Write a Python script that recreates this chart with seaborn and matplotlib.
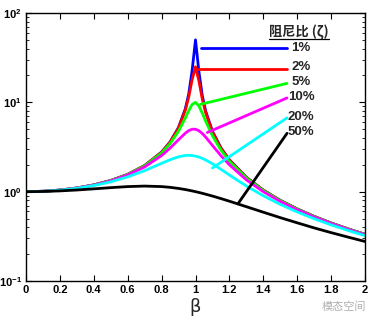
import numpy as np
import pandas as pd
import matplotlib
matplotlib.use("Agg")
import matplotlib.pyplot as plt
import seaborn as sns
from matplotlib.lines import Line2D
from matplotlib.ticker import LogLocator, NullFormatter, FixedLocator

# ---------------- data ----------------
beta = [0, 0.1, 0.2, 0.3, 0.4, 0.5, 0.6, 0.7, 0.8, 0.85, 0.9, 0.94, 0.96, 0.98,
        1.0, 1.02, 1.04, 1.06, 1.1, 1.15, 1.2, 1.3, 1.4, 1.5, 1.6, 1.7, 1.8, 1.9, 2.0]

h_1 = [1.0, 1.010, 1.042, 1.099, 1.190, 1.333, 1.562, 1.960, 2.775, 3.597, 5.24, 8.48, 12.4, 22.6,
       50.0, 22.1, 11.9, 7.97, 4.74, 3.09, 2.27, 1.448, 1.041, 0.800, 0.641, 0.529, 0.446, 0.383, 0.333]
h_2 = [1.0, 1.010, 1.042, 1.099, 1.190, 1.333, 1.561, 1.958, 2.767, 3.577, 5.17, 8.18, 11.45, 17.9,
       25.0, 17.4, 10.9, 7.65, 4.66, 3.07, 2.26, 1.445, 1.040, 0.799, 0.641, 0.529, 0.446, 0.383, 0.333]
h_5 = [1.0, 1.010, 1.041, 1.098, 1.189, 1.330, 1.556, 1.943, 2.712, 3.446, 4.76, 6.68, 8.07, 9.46,
       10.0, 9.12, 7.56, 6.14, 4.22, 2.92, 2.19, 1.424, 1.031, 0.794, 0.638, 0.527, 0.445, 0.382, 0.333]
h_10 = [1.0, 1.010, 1.041, 1.097, 1.185, 1.322, 1.536, 1.891, 2.538, 3.073, 3.82, 4.52, 4.82, 5.00,
        5.00, 4.81, 4.48, 4.08, 3.29, 2.53, 2.00, 1.356, 1.000, 0.778, 0.628, 0.521, 0.441, 0.379, 0.330]
h_20 = [1.0, 1.009, 1.038, 1.090, 1.170, 1.288, 1.463, 1.719, 2.076, 2.279, 2.457, 2.541, 2.551, 2.538,
        2.50, 2.439, 2.359, 2.264, 2.051, 1.780, 1.536, 1.157, 0.900, 0.721, 0.593, 0.498, 0.425, 0.368, 0.322]
h_50 = [1.0, 1.005, 1.020, 1.044, 1.075, 1.109, 1.140, 1.155, 1.140, 1.118, 1.087, 1.056, 1.038, 1.020,
        1.000, 0.980, 0.959, 0.937, 0.893, 0.837, 0.782, 0.679, 0.589, 0.512, 0.448, 0.393, 0.348, 0.310, 0.277]

labels = ["1%", "2%", "5%", "10%", "20%", "50%"]
colors = ["#0000ff", "#ff0000", "#00ff00", "#ff00ff", "#00ffff", "#000000"]
# annotation leader lines: start point on the curve, end point near the label (data units)
lead_start_x = [1.03, 1.00, 1.03, 1.07, 1.10, 1.25]
lead_start_y = [40.8, 23.6, 9.5, 4.6, 1.84, 0.73]
lead_end_x = [1.54, 1.54, 1.54, 1.54, 1.54, 1.54]
lead_end_y = [40.8, 23.6, 16.3, 11.2, 6.7, 4.5]
label_y = [40.5, 25.0, 17.0, 11.5, 6.9, 4.6]
legend_title = "阻尼比 (ζ)"

series = [h_1, h_2, h_5, h_10, h_20, h_50]
df = pd.concat([pd.DataFrame({"beta": beta, "H": s, "zeta": lab})
                for s, lab in zip(series, labels)], ignore_index=True)

# ---------------- figure ----------------
sns.set_style("ticks")
plt.rcParams["font.family"] = ["Liberation Sans", "DejaVu Sans"]
plt.rcParams["mathtext.fontset"] = "custom"
plt.rcParams["mathtext.rm"] = "Liberation Sans:bold"
plt.rcParams["mathtext.bf"] = "Liberation Sans:bold"
plt.rcParams["mathtext.it"] = "Liberation Sans:bold"
plt.rcParams["mathtext.default"] = "bf"

fig = plt.figure(figsize=(3.76, 3.23), dpi=100)
ax = fig.add_axes([26 / 376, 1 - 281 / 323, (365 - 26) / 376, (281 - 13) / 323])

sns.lineplot(data=df, x="beta", y="H", hue="zeta", palette=dict(zip(labels, colors)),
             linewidth=2.0, legend=False, ax=ax, sort=False, estimator=None)

ax.set_yscale("log")
ax.set_xlim(0, 2)
ax.set_ylim(0.1, 100)

for sx, sy, ex, ey, c in zip(lead_start_x, lead_start_y, lead_end_x, lead_end_y, colors):
    ax.plot([sx, ex], [sy, ey], color=c, lw=2.0)

for lab, ly in zip(labels, label_y):
    ax.text(1.545 if len(lab) == 3 else 1.565, ly, lab, fontsize=9.5, fontweight="bold",
            ha="left", va="center")

t = ax.text(1.435, 62, legend_title, fontsize=9.5, fontweight="bold", ha="left", va="center",
            family=["Noto Sans CJK SC", "DejaVu Sans"])

# ticks
ax.xaxis.set_major_locator(FixedLocator([0, 0.2, 0.4, 0.6, 0.8, 1, 1.2, 1.4, 1.6, 1.8, 2]))
ax.set_xticklabels(["0", "0.2", "0.4", "0.6", "0.8", "1", "1.2", "1.4", "1.6", "1.8", "2"])
ax.yaxis.set_major_locator(LogLocator(base=10, numticks=10))
ax.yaxis.set_minor_locator(LogLocator(base=10, subs=np.arange(2, 10), numticks=20))
ax.yaxis.set_minor_formatter(NullFormatter())
ax.tick_params(which="both", direction="in", top=True, right=True, colors="black")
ax.tick_params(which="major", length=4, width=0.8, labelsize=8, pad=3)
ax.tick_params(which="minor", length=2, width=0.6)
for lbl in ax.get_xticklabels() + ax.get_yticklabels():
    lbl.set_fontweight("bold")
for sp in ax.spines.values():
    sp.set_visible(True)
    sp.set_color("black")
    sp.set_linewidth(1.0)

ax.set_xlabel("β", fontsize=13, family="DejaVu Sans", labelpad=2)
ax.set_ylabel("")

# underline the legend title
fig.canvas.draw()
bb = t.get_window_extent()
W, H = fig.get_size_inches() * fig.dpi
fig.add_artist(Line2D([bb.x0 / W, bb.x1 / W], [(bb.y0 - 0.5) / H, (bb.y0 - 0.5) / H],
                      color="black", lw=0.9, transform=fig.transFigure))

# watermark
fig.text(0.915, 0.05, "模态空间", fontsize=8, color="#b0b0b0", ha="center", va="center",
         family=["Noto Sans CJK SC", "DejaVu Sans"])

fig.savefig("out.png", dpi=100)
